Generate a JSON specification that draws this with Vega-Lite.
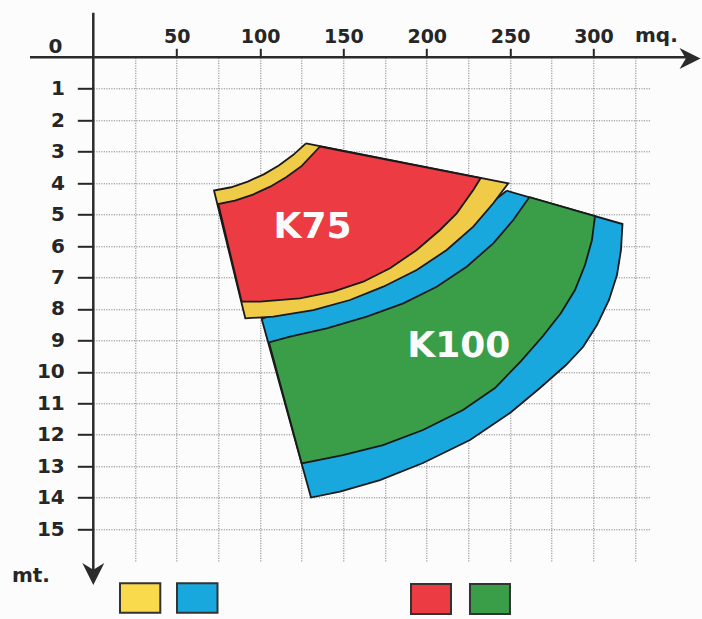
{
  "$schema": "https://vega.github.io/schema/vega-lite/v6.json",
  "width": 556.2,
  "height": 504.8,
  "autosize": {"type": "none"},
  "padding": {"left": 93.3, "top": 57.3, "right": 52.5, "bottom": 56.9},
  "background": "#fcfcfc",
  "config": {"view": {"stroke": null}, "font": "DejaVu Sans"},
  "datasets": {
    "poly": [
      {"part": "blue", "i": 1, "u": 247.94, "v": 4.242},
      {"part": "blue", "i": 2, "u": 239.91, "v": 4.579},
      {"part": "blue", "i": 3, "u": 227.91, "v": 5.323},
      {"part": "blue", "i": 4, "u": 211.96, "v": 6.064},
      {"part": "blue", "i": 5, "u": 193.97, "v": 6.7},
      {"part": "blue", "i": 6, "u": 173.93, "v": 7.231},
      {"part": "blue", "i": 7, "u": 153.96, "v": 7.654},
      {"part": "blue", "i": 8, "u": 131.95, "v": 7.971},
      {"part": "blue", "i": 9, "u": 107.96, "v": 8.185},
      {"part": "blue", "i": 10, "u": 101.0, "v": 8.321},
      {"part": "blue", "i": 11, "u": 130.57, "v": 13.997},
      {"part": "blue", "i": 12, "u": 147.96, "v": 13.806},
      {"part": "blue", "i": 13, "u": 171.95, "v": 13.441},
      {"part": "blue", "i": 14, "u": 197.74, "v": 12.9},
      {"part": "blue", "i": 15, "u": 225.93, "v": 12.169},
      {"part": "blue", "i": 16, "u": 249.92, "v": 11.31},
      {"part": "blue", "i": 17, "u": 267.92, "v": 10.515},
      {"part": "blue", "i": 18, "u": 283.51, "v": 9.784},
      {"part": "blue", "i": 19, "u": 293.71, "v": 9.212},
      {"part": "blue", "i": 20, "u": 302.1, "v": 8.512},
      {"part": "blue", "i": 21, "u": 309.3, "v": 7.717},
      {"part": "blue", "i": 22, "u": 314.1, "v": 6.922},
      {"part": "blue", "i": 23, "u": 316.5, "v": 6.127},
      {"part": "blue", "i": 24, "u": 317.4, "v": 5.301},
      {"part": "blue", "i": 25, "u": 247.94, "v": 4.242},
      {"part": "green", "i": 1, "u": 261.5, "v": 4.448},
      {"part": "green", "i": 2, "u": 251.9, "v": 5.173},
      {"part": "green", "i": 3, "u": 239.91, "v": 5.914},
      {"part": "green", "i": 4, "u": 223.95, "v": 6.658},
      {"part": "green", "i": 5, "u": 205.96, "v": 7.294},
      {"part": "green", "i": 6, "u": 185.93, "v": 7.822},
      {"part": "green", "i": 7, "u": 163.98, "v": 8.248},
      {"part": "green", "i": 8, "u": 139.99, "v": 8.617},
      {"part": "green", "i": 9, "u": 117.97, "v": 8.884},
      {"part": "green", "i": 10, "u": 105.38, "v": 9.068},
      {"part": "green", "i": 11, "u": 124.99, "v": 12.91},
      {"part": "green", "i": 12, "u": 149.76, "v": 12.646},
      {"part": "green", "i": 13, "u": 173.75, "v": 12.328},
      {"part": "green", "i": 14, "u": 197.74, "v": 11.851},
      {"part": "green", "i": 15, "u": 221.74, "v": 11.215},
      {"part": "green", "i": 16, "u": 240.93, "v": 10.515},
      {"part": "green", "i": 17, "u": 256.52, "v": 9.657},
      {"part": "green", "i": 18, "u": 269.72, "v": 8.862},
      {"part": "green", "i": 19, "u": 280.51, "v": 8.131},
      {"part": "green", "i": 20, "u": 288.91, "v": 7.399},
      {"part": "green", "i": 21, "u": 294.91, "v": 6.604},
      {"part": "green", "i": 22, "u": 299.1, "v": 5.809},
      {"part": "green", "i": 23, "u": 300.9, "v": 5.049},
      {"part": "green", "i": 24, "u": 261.5, "v": 4.448},
      {"part": "yellow", "i": 1, "u": 127.57, "v": 2.735},
      {"part": "yellow", "i": 2, "u": 119.76, "v": 3.108},
      {"part": "yellow", "i": 3, "u": 111.27, "v": 3.438},
      {"part": "yellow", "i": 4, "u": 102.19, "v": 3.721},
      {"part": "yellow", "i": 5, "u": 92.62, "v": 3.953},
      {"part": "yellow", "i": 6, "u": 82.65, "v": 4.132},
      {"part": "yellow", "i": 7, "u": 72.39, "v": 4.235},
      {"part": "yellow", "i": 8, "u": 91.17, "v": 8.299},
      {"part": "yellow", "i": 9, "u": 107.96, "v": 8.248},
      {"part": "yellow", "i": 10, "u": 131.95, "v": 8.035},
      {"part": "yellow", "i": 11, "u": 153.96, "v": 7.717},
      {"part": "yellow", "i": 12, "u": 173.93, "v": 7.294},
      {"part": "yellow", "i": 13, "u": 193.97, "v": 6.763},
      {"part": "yellow", "i": 14, "u": 211.96, "v": 6.127},
      {"part": "yellow", "i": 15, "u": 227.91, "v": 5.386},
      {"part": "yellow", "i": 16, "u": 239.91, "v": 4.642},
      {"part": "yellow", "i": 17, "u": 248.9, "v": 4.006},
      {"part": "yellow", "i": 18, "u": 127.57, "v": 2.735},
      {"part": "red", "i": 1, "u": 135.97, "v": 2.836},
      {"part": "red", "i": 2, "u": 125.05, "v": 3.453},
      {"part": "red", "i": 3, "u": 115.88, "v": 3.809},
      {"part": "red", "i": 4, "u": 106.1, "v": 4.114},
      {"part": "red", "i": 5, "u": 95.72, "v": 4.366},
      {"part": "red", "i": 6, "u": 84.93, "v": 4.56},
      {"part": "red", "i": 7, "u": 74.97, "v": 4.665},
      {"part": "red", "i": 8, "u": 89.01, "v": 7.771},
      {"part": "red", "i": 9, "u": 99.98, "v": 7.771},
      {"part": "red", "i": 10, "u": 123.97, "v": 7.663},
      {"part": "red", "i": 11, "u": 143.94, "v": 7.453},
      {"part": "red", "i": 12, "u": 161.94, "v": 7.135},
      {"part": "red", "i": 13, "u": 177.95, "v": 6.709},
      {"part": "red", "i": 14, "u": 193.97, "v": 6.127},
      {"part": "red", "i": 15, "u": 207.94, "v": 5.491},
      {"part": "red", "i": 16, "u": 217.96, "v": 4.96},
      {"part": "red", "i": 17, "u": 227.91, "v": 4.219},
      {"part": "red", "i": 18, "u": 232.35, "v": 3.838},
      {"part": "red", "i": 19, "u": 135.97, "v": 2.836}
    ],
    "axes": [
      {"u": 0, "v": -1.418, "u2": 0, "v2": 16.4},
      {"u": -37.97, "v": 0, "u2": 356.7, "v2": 0}
    ],
    "downArrow": [{"u": 0, "v": 16.43}],
    "rightArrow": [{"u": 357.9, "v": 0.04}],
    "corner": [
      {"t": "0", "u": -26.9, "v": -0.146},
      {"t": "mq.", "u": 324.9, "v": -0.477},
      {"t": "mt.", "u": -48.8, "v": 16.674}
    ],
    "names": [
      {"t": "K75", "u": 131.47, "v": 5.755},
      {"t": "K100", "u": 219.19, "v": 9.52}
    ],
    "keys": [
      {"part": "key yellow", "u": 16.01, "u2": 40.18, "v": 16.725, "v2": 17.66},
      {"part": "blue", "u": 50.2, "u2": 74.49, "v": 16.725, "v2": 17.66},
      {"part": "red", "u": 190.55, "u2": 214.54, "v": 16.748, "v2": 17.701},
      {"part": "green", "u": 225.93, "u2": 249.92, "v": 16.748, "v2": 17.701}
    ]
  },
  "encoding": {
    "x": {
      "field": "u",
      "type": "quantitative",
      "scale": {"domain": [0, 333.6], "nice": false, "zero": false},
      "axis": {
        "orient": "top",
        "values": [25, 50, 75, 100, 125, 150, 175, 200, 225, 250, 275, 300, 325],
        "title": null,
        "domain": false,
        "grid": true,
        "gridColor": "#858585",
        "gridDash": [1.2, 1.3],
        "gridWidth": 1,
        "tickSize": 9,
        "tickWidth": 2,
        "tickColor": "#262626",
        "tickOpacity": {"condition": {"test": "datum.value % 50 === 0 && datum.value <= 300", "value": 1}, "value": 0},
        "labelExpr": "datum.value % 50 === 0 && datum.value <= 300 ? datum.label : ''",
        "labelFont": "DejaVu Sans",
        "labelFontWeight": "bold",
        "labelFontSize": 19,
        "labelColor": "#262626",
        "labelBaseline": "alphabetic",
        "labelPadding": 6,
        "labelFlush": false,
        "labelOverlap": false
      }
    },
    "y": {
      "field": "v",
      "type": "quantitative",
      "scale": {"domain": [0, 16.05], "nice": false, "zero": false, "reverse": true},
      "axis": {
        "orient": "left",
        "values": [1, 2, 3, 4, 5, 6, 7, 8, 9, 10, 11, 12, 13, 14, 15],
        "title": null,
        "domain": false,
        "grid": true,
        "gridColor": "#858585",
        "gridDash": [1.2, 1.3],
        "gridWidth": 1,
        "tickSize": 16,
        "tickWidth": 2,
        "tickColor": "#262626",
        "labelFont": "DejaVu Sans",
        "labelFontWeight": "bold",
        "labelFontSize": 20,
        "labelColor": "#262626",
        "labelBaseline": "middle",
        "labelPadding": 13,
        "labelFlush": false,
        "labelOverlap": false
      }
    }
  },
  "layer": [
    {
      "data": {"name": "poly"},
      "transform": [{"filter": "datum.part === 'blue'"}],
      "mark": {"type": "line", "filled": true, "stroke": "#1a1a1a", "strokeWidth": 1.8, "opacity": 1},
      "encoding": {
        "order": {"field": "i", "type": "quantitative"},
        "color": {"field": "part", "type": "nominal", "legend": null,
          "scale": {"domain": ["yellow", "blue", "red", "green", "key yellow"], "range": ["#f0cb48", "#18a8de", "#ec3b42", "#3a9e48", "#f8da4c"]}}
      }
    },
    {
      "data": {"name": "poly"},
      "transform": [{"filter": "datum.part === 'green'"}],
      "mark": {"type": "line", "filled": true, "stroke": "#1a1a1a", "strokeWidth": 1.8, "opacity": 1},
      "encoding": {
        "order": {"field": "i", "type": "quantitative"},
        "color": {"field": "part", "type": "nominal", "legend": null}
      }
    },
    {
      "data": {"name": "poly"},
      "transform": [{"filter": "datum.part === 'yellow'"}],
      "mark": {"type": "line", "filled": true, "stroke": "#1a1a1a", "strokeWidth": 1.8, "opacity": 1},
      "encoding": {
        "order": {"field": "i", "type": "quantitative"},
        "color": {"field": "part", "type": "nominal", "legend": null}
      }
    },
    {
      "data": {"name": "poly"},
      "transform": [{"filter": "datum.part === 'red'"}],
      "mark": {"type": "line", "filled": true, "stroke": "#1a1a1a", "strokeWidth": 1.8, "opacity": 1},
      "encoding": {
        "order": {"field": "i", "type": "quantitative"},
        "color": {"field": "part", "type": "nominal", "legend": null}
      }
    },
    {
      "data": {"name": "keys"},
      "mark": {"type": "rect", "stroke": "#333333", "strokeWidth": 2},
      "encoding": {
        "x2": {"field": "u2"},
        "y2": {"field": "v2"},
        "color": {"field": "part", "type": "nominal", "legend": null}
      }
    },
    {
      "data": {"name": "axes"},
      "mark": {"type": "rule", "color": "#2b2b2b", "strokeWidth": 2.5},
      "encoding": {
        "x2": {"field": "u2"},
        "y2": {"field": "v2"}
      }
    },
    {
      "data": {"name": "downArrow"},
      "mark": {"type": "point", "shape": "M-1,-1L0,-0.4L1,-1L0,1Z", "size": 484, "filled": true, "color": "#2b2b2b", "opacity": 1},
      "encoding": {}
    },
    {
      "data": {"name": "rightArrow"},
      "mark": {"type": "point", "shape": "M-1,-1L1,0L-1,1L-0.4,0Z", "size": 441, "filled": true, "color": "#2b2b2b", "opacity": 1},
      "encoding": {}
    },
    {
      "data": {"name": "corner"},
      "mark": {"type": "text", "font": "DejaVu Sans", "fontWeight": "bold", "fontSize": 20, "align": "left", "baseline": "alphabetic", "color": "#262626"},
      "encoding": {"text": {"field": "t"}}
    },
    {
      "data": {"name": "names"},
      "mark": {"type": "text", "font": "DejaVu Sans", "fontWeight": "bold", "fontSize": 36, "align": "center", "baseline": "alphabetic", "color": "#fbfbfb"},
      "encoding": {"text": {"field": "t"}}
    }
  ]
}
